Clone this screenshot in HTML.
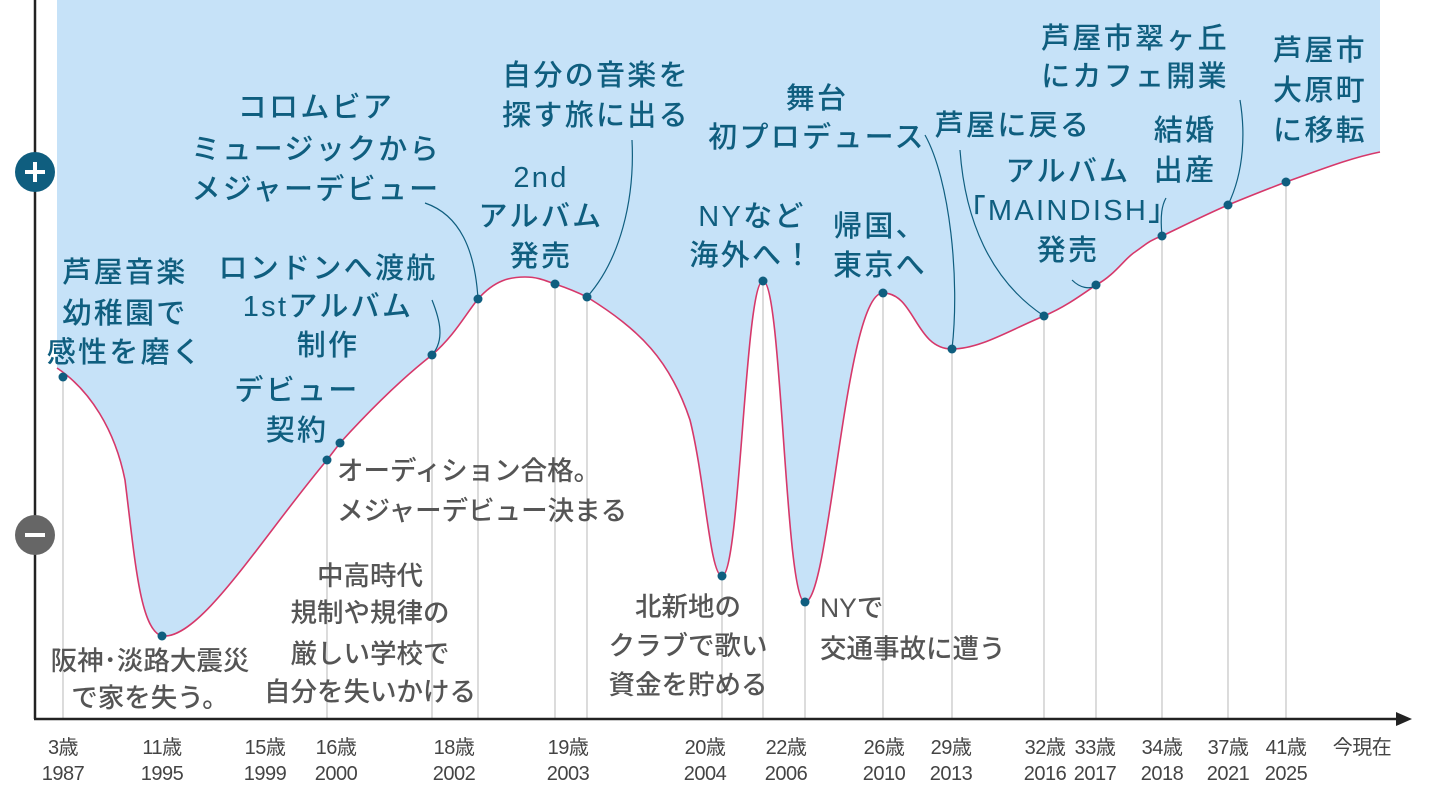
<!DOCTYPE html>
<html><head><meta charset="utf-8"><style>
html,body{margin:0;padding:0;background:#fff;width:1440px;height:800px;overflow:hidden}
svg{display:block}
.b{fill:#0f5e7f;font-family:"Liberation Sans","Noto Sans CJK JP",sans-serif;font-size:29px;font-weight:500;text-anchor:middle;letter-spacing:2.3px}
.g{fill:#555;font-family:"Liberation Sans","Noto Sans CJK JP",sans-serif;font-size:26.5px;font-weight:500;text-anchor:middle;letter-spacing:0}
.t{fill:#444;font-family:"Liberation Sans","Noto Sans CJK JP",sans-serif;font-size:20px;text-anchor:middle;letter-spacing:-0.5px}
.v{stroke:#c8c8c8;stroke-width:1.3}
.ld{stroke:#0f5e7f;stroke-width:1.2;fill:none}
</style></head><body>
<svg width="1440" height="800" viewBox="0 0 1440 800">
<path d="M57,368 C90,390 115,430 125,480 C135,560 140,630 162,636 C200,640 260,540 327,460 L340,443 C370,410 400,380 432,355 C455,335 465,315 478,299 C495,280 510,277 525,277 C540,277 548,282 555,284 C567,288 577,292 587,297 C640,330 670,360 690,420 C705,480 710,576 722,576 C740,576 745,281 763,281 C782,281 785,602 805,602 C830,602 845,293 883,293 C915,293 915,349 952,349 C980,349 1010,330 1044,316 C1065,307 1080,296 1096,285 C1115,275 1125,258 1135,252 C1145,245 1150,240 1162,236 C1185,225 1205,215 1228,205 C1250,196 1265,190 1286,182 C1320,170 1350,158 1380,152 L1380,0 L57,0 Z" fill="#c6e2f8"/>
<g class="v">
<line x1="63" y1="377" x2="63" y2="718"/><line x1="327" y1="460" x2="327" y2="718"/><line x1="432" y1="355" x2="432" y2="718"/><line x1="478" y1="299" x2="478" y2="718"/><line x1="555" y1="284" x2="555" y2="718"/><line x1="587" y1="297" x2="587" y2="718"/><line x1="722" y1="576" x2="722" y2="718"/><line x1="763" y1="281" x2="763" y2="718"/><line x1="805" y1="602" x2="805" y2="718"/><line x1="883" y1="293" x2="883" y2="718"/><line x1="952" y1="349" x2="952" y2="718"/><line x1="1044" y1="316" x2="1044" y2="718"/><line x1="1096" y1="285" x2="1096" y2="718"/><line x1="1162" y1="236" x2="1162" y2="718"/><line x1="1228" y1="205" x2="1228" y2="718"/><line x1="1286" y1="182" x2="1286" y2="718"/>
</g>
<path d="M57,368 C90,390 115,430 125,480 C135,560 140,630 162,636 C200,640 260,540 327,460 L340,443 C370,410 400,380 432,355 C455,335 465,315 478,299 C495,280 510,277 525,277 C540,277 548,282 555,284 C567,288 577,292 587,297 C640,330 670,360 690,420 C705,480 710,576 722,576 C740,576 745,281 763,281 C782,281 785,602 805,602 C830,602 845,293 883,293 C915,293 915,349 952,349 C980,349 1010,330 1044,316 C1065,307 1080,296 1096,285 C1115,275 1125,258 1135,252 C1145,245 1150,240 1162,236 C1185,225 1205,215 1228,205 C1250,196 1265,190 1286,182 C1320,170 1350,158 1380,152" fill="none" stroke="#d6386a" stroke-width="1.6"/>
<g class="ld">
<path d="M432,355 C445,340 440,320 432,300"/>
<path d="M478,299 C475,250 460,215 425,203"/>
<path d="M587,297 C620,260 635,200 632,140"/>
<path d="M952,349 C960,280 950,180 925,135"/>
<path d="M1044,316 C990,280 965,220 960,150"/>
<path d="M1096,285 C1090,290 1080,288 1072,280"/>
<path d="M1162,236 C1160,215 1162,205 1166,198"/>
<path d="M1228,205 C1245,170 1245,130 1240,100"/>
</g>
<g fill="#0f5e7f">
<circle cx="63" cy="377" r="4.5"/><circle cx="162" cy="636" r="4.5"/><circle cx="327" cy="460" r="4.5"/><circle cx="340" cy="443" r="4.5"/><circle cx="432" cy="355" r="4.5"/><circle cx="478" cy="299" r="4.5"/><circle cx="555" cy="284" r="4.5"/><circle cx="587" cy="297" r="4.5"/><circle cx="722" cy="576" r="4.5"/><circle cx="763" cy="281" r="4.5"/><circle cx="805" cy="602" r="4.5"/><circle cx="883" cy="293" r="4.5"/><circle cx="952" cy="349" r="4.5"/><circle cx="1044" cy="316" r="4.5"/><circle cx="1096" cy="285" r="4.5"/><circle cx="1162" cy="236" r="4.5"/><circle cx="1228" cy="205" r="4.5"/><circle cx="1286" cy="182" r="4.5"/>
</g>
<line x1="35" y1="0" x2="35" y2="719" stroke="#222" stroke-width="2.5"/>
<line x1="34" y1="719" x2="1398" y2="719" stroke="#222" stroke-width="2.5"/>
<polygon points="1396,712 1412,719 1396,726" fill="#222"/>
<circle cx="35" cy="172" r="20" fill="#0f5e7f"/><rect x="25" y="170" width="20" height="4" fill="#fff"/><rect x="33" y="162" width="4" height="20" fill="#fff"/>
<circle cx="35" cy="535" r="20" fill="#666"/><rect x="25" y="533" width="20" height="4" fill="#fff"/>

<g class="b">
<text x="125" y="282">芦屋音楽</text><text x="125" y="323">幼稚園で</text><text x="125" y="362">感性を磨く</text>
<text x="297" y="400">デビュー</text><text x="297" y="440">契約</text>
<text x="328" y="278">ロンドンへ渡航</text><text x="328" y="316">1stアルバム</text><text x="328" y="355">制作</text>
<text x="316" y="117">コロムビア</text><text x="316" y="159">ミュージックから</text><text x="316" y="199">メジャーデビュー</text>
<text x="541" y="187">2nd</text><text x="541" y="226">アルバム</text><text x="541" y="266">発売</text>
<text x="596" y="85">自分の音楽を</text><text x="596" y="125">探す旅に出る</text>
<text x="752" y="226">NYなど</text><text x="752" y="265">海外へ！</text>
<text x="817" y="108">舞台</text><text x="817" y="147">初プロデュース</text>
<text x="880" y="236">帰国、</text><text x="880" y="275">東京へ</text>
<text x="1013" y="135">芦屋に戻る</text>
<text x="1068" y="181">アルバム</text><text x="1068" y="220">「MAINDISH」</text><text x="1068" y="260">発売</text>
<text x="1185" y="140">結婚</text><text x="1185" y="180">出産</text>
<text x="1135" y="48">芦屋市翠ヶ丘</text><text x="1135" y="86">にカフェ開業</text>
<text x="1320" y="60">芦屋市</text><text x="1320" y="100">大原町</text><text x="1320" y="140">に移転</text>
</g>
<g class="g">
<text x="150" y="670">阪神･淡路大震災</text><text x="150" y="707">で家を失う。</text>
<text x="370" y="585">中高時代</text><text x="370" y="622">規制や規律の</text><text x="370" y="663">厳しい学校で</text><text x="370" y="701">自分を失いかける</text>
<text x="337" y="480" style="text-anchor:start">オーディション合格。</text><text x="337" y="520" style="text-anchor:start">メジャーデビュー決まる</text>
<text x="688" y="616">北新地の</text><text x="688" y="655">クラブで歌い</text><text x="688" y="694">資金を貯める</text>
<text x="820" y="617" style="text-anchor:start">NYで</text><text x="820" y="658" style="text-anchor:start">交通事故に遭う</text>
</g>
<g class="t">
<text x="63" y="754">3歳</text><text x="63" y="780">1987</text>
<text x="162" y="754">11歳</text><text x="162" y="780">1995</text>
<text x="265" y="754">15歳</text><text x="265" y="780">1999</text>
<text x="336" y="754">16歳</text><text x="336" y="780">2000</text>
<text x="454" y="754">18歳</text><text x="454" y="780">2002</text>
<text x="568" y="754">19歳</text><text x="568" y="780">2003</text>
<text x="705" y="754">20歳</text><text x="705" y="780">2004</text>
<text x="786" y="754">22歳</text><text x="786" y="780">2006</text>
<text x="884" y="754">26歳</text><text x="884" y="780">2010</text>
<text x="951" y="754">29歳</text><text x="951" y="780">2013</text>
<text x="1045" y="754">32歳</text><text x="1045" y="780">2016</text>
<text x="1095" y="754">33歳</text><text x="1095" y="780">2017</text>
<text x="1162" y="754">34歳</text><text x="1162" y="780">2018</text>
<text x="1228" y="754">37歳</text><text x="1228" y="780">2021</text>
<text x="1286" y="754">41歳</text><text x="1286" y="780">2025</text>
<text x="1362" y="754">今現在</text>
</g>
</svg>
</body></html>
